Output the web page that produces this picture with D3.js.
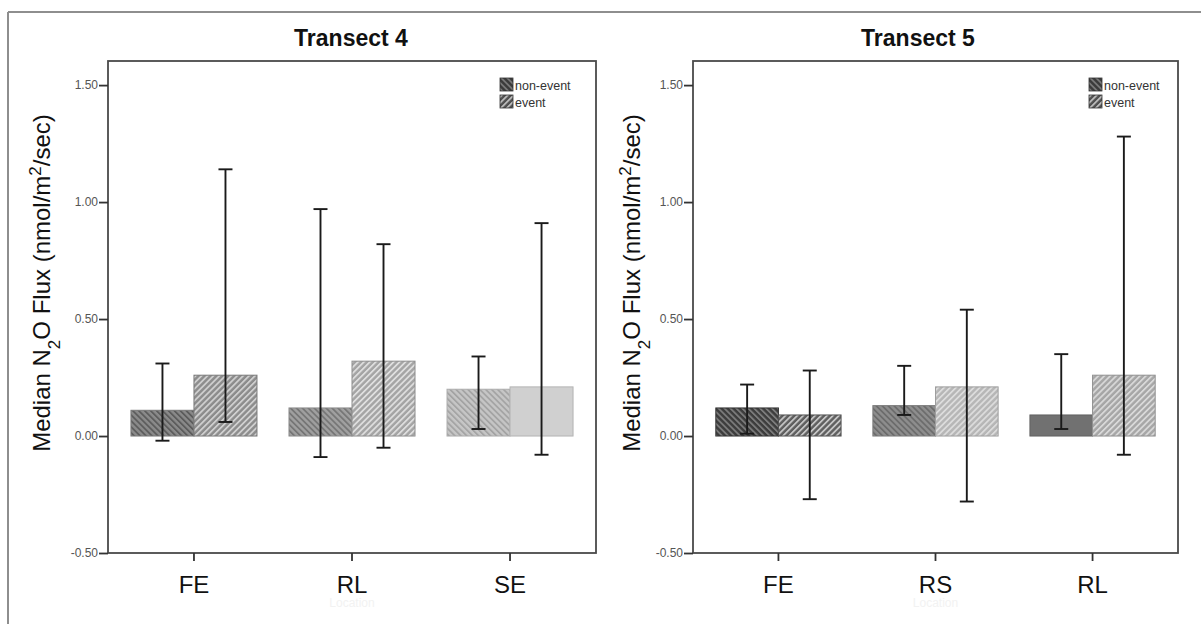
<!DOCTYPE html>
<html>
<head>
<meta charset="utf-8">
<script src="https://cdn.jsdelivr.net/npm/d3@7"></script>
<style>
  body { margin: 0; background: #fff; }
  text { font-family: "Liberation Sans", Arial, sans-serif; }
</style>
</head>
<body>
<svg id="chart" width="1201" height="624"></svg>
<script>
// data
const groups = ["non-event", "event"];
const yTicks = [-0.5, 0, 0.5, 1.0, 1.5];

const t4Sites = ["FE", "RL", "SE"];
const t4NonEvent = [0.11, 0.12, 0.20];
const t4Event = [0.26, 0.32, 0.21];
const t4NonEventLo = [-0.02, -0.09, 0.03];
const t4NonEventHi = [0.31, 0.97, 0.34];
const t4EventLo = [0.06, -0.05, -0.08];
const t4EventHi = [1.14, 0.82, 0.91];

const t5Sites = ["FE", "RS", "RL"];
const t5NonEvent = [0.12, 0.13, 0.09];
const t5Event = [0.09, 0.21, 0.26];
const t5NonEventLo = [0.01, 0.09, 0.03];
const t5NonEventHi = [0.22, 0.30, 0.35];
const t5EventLo = [-0.27, -0.28, -0.08];
const t5EventHi = [0.28, 0.54, 1.28];

// shading per bar: [base, stripe] (null stripe = solid)
const t4Shades = [
    [["#8a8a8a", "#5c5c5c"], ["#8c8c8c", "#cfcfcf"]],
    [["#a0a0a0", "#767676"], ["#a4a4a4", "#dedede"]],
    [["#c6c6c6", "#a4a4a4"], ["#d0d0d0", null]]
];
const t5Shades = [
    [["#3c3c3c", "#7c7c7c"], ["#5e5e5e", "#c4c4c4"]],
    [["#8e8e8e", "#6c6c6c"], ["#b6b6b6", "#dcdcdc"]],
    [["#717171", null], ["#a6a6a6", "#d8d8d8"]]
];

const svg = d3.select("#chart");
const defs = svg.append("defs");

let patId = 0;
function hatch(base, stripe, dir) {
    if (!stripe) return base;
    const id = "hatch" + (patId++);
    const p = defs.append("pattern")
        .attr("id", id)
        .attr("patternUnits", "userSpaceOnUse")
        .attr("width", 4.2)
        .attr("height", 4.2)
        .attr("patternTransform", `rotate(${dir === "event" ? 45 : -45})`);
    p.append("rect").attr("width", 4.2).attr("height", 4.2).attr("fill", base);
    p.append("rect").attr("width", 1.8).attr("height", 4.2).attr("fill", stripe);
    return `url(#${id})`;
}

// outer frame (top and left only)
svg.append("line").attr("x1", 8).attr("x2", 1201).attr("y1", 12).attr("y2", 12)
    .attr("stroke", "#8e8e8e").attr("stroke-width", 2);
svg.append("line").attr("x1", 8).attr("x2", 8).attr("y1", 12).attr("y2", 624)
    .attr("stroke", "#8e8e8e").attr("stroke-width", 2);

const y = d3.scaleLinear().domain([-0.5, 1.603]).range([553, 61]);

function panel(o) {
    const g = svg.append("g");
    const x = d3.scaleBand().domain(o.sites).range([o.left, o.right])
        .paddingInner(0).paddingOuter(0.044);
    const xs = d3.scaleBand().domain(groups).range([0, x.bandwidth()])
        .paddingInner(0).paddingOuter(0.254);

    const rows = [];
    o.sites.forEach((s, i) => {
        rows.push({ site: s, grp: "non-event", v: o.ne[i], lo: o.neLo[i], hi: o.neHi[i], shade: o.shades[i][0] });
        rows.push({ site: s, grp: "event", v: o.ev[i], lo: o.evLo[i], hi: o.evHi[i], shade: o.shades[i][1] });
    });

    // bars
    g.append("g").selectAll("rect")
        .data(rows)
        .join("rect")
        .attr("x", d => x(d.site) + xs(d.grp))
        .attr("y", d => y(d.v))
        .attr("width", xs.bandwidth())
        .attr("height", d => y(0) - y(d.v))
        .attr("fill", d => hatch(d.shade[0], d.shade[1], d.grp))
        .attr("stroke", d => d3.color(d.shade[0]).darker(0.4))
        .attr("stroke-width", 1);

    // error bars
    const cx = d => x(d.site) + xs(d.grp) + xs.bandwidth() / 2;
    const eb = g.append("g").attr("stroke", "#1a1a1a").attr("stroke-width", 1.9);
    eb.selectAll(".stem").data(rows).join("line")
        .attr("x1", cx).attr("x2", cx)
        .attr("y1", d => y(d.lo)).attr("y2", d => y(d.hi));
    eb.selectAll(".capHi").data(rows).join("line")
        .attr("x1", d => cx(d) - 7).attr("x2", d => cx(d) + 7)
        .attr("y1", d => y(d.hi)).attr("y2", d => y(d.hi));
    eb.selectAll(".capLo").data(rows).join("line")
        .attr("x1", d => cx(d) - 7).attr("x2", d => cx(d) + 7)
        .attr("y1", d => y(d.lo)).attr("y2", d => y(d.lo));

    // plot box
    g.append("rect")
        .attr("x", o.left).attr("y", y.range()[1])
        .attr("width", o.right - o.left).attr("height", y.range()[0] - y.range()[1])
        .attr("fill", "none").attr("stroke", "#4a4a4a").attr("stroke-width", 1.8);

    // y axis
    g.append("g")
        .attr("transform", `translate(${o.left},0)`)
        .call(d3.axisLeft(y).tickValues(yTicks).tickFormat(d => d.toFixed(2)).tickSize(9).tickPadding(1))
        .call(a => a.select(".domain").remove())
        .call(a => a.selectAll(".tick line").attr("stroke", "#333").attr("stroke-width", 1.8))
        .call(a => a.selectAll(".tick text").attr("fill", "#555").attr("font-size", 12)
            .attr("font-family", "Liberation Sans, Arial, sans-serif"));

    // x axis
    g.append("g")
        .attr("transform", `translate(0,${y.range()[0]})`)
        .call(d3.axisBottom(x).tickSize(8).tickPadding(15))
        .call(a => a.select(".domain").remove())
        .call(a => a.selectAll(".tick line").attr("stroke", "#333").attr("stroke-width", 1.8))
        .call(a => a.selectAll(".tick text").attr("fill", "#111").attr("font-size", 24)
            .attr("font-family", "Liberation Sans, Arial, sans-serif"));

    // faint axis title
    g.append("text")
        .attr("x", (o.left + o.right) / 2).attr("y", 607)
        .attr("text-anchor", "middle").attr("font-size", 12).attr("fill", "#f2f2f2")
        .text("Location");

    // title
    g.append("text")
        .attr("x", o.titleX).attr("y", 46)
        .attr("text-anchor", "middle").attr("font-size", 23).attr("font-weight", "bold")
        .attr("fill", "#111")
        .text(o.title);

    // y label
    const yl = g.append("text")
        .attr("transform", `translate(${o.labelX},283) rotate(-90)`)
        .attr("text-anchor", "middle").attr("font-size", 24).attr("fill", "#111");
    yl.append("tspan").text("Median N");
    yl.append("tspan").attr("baseline-shift", "sub").attr("font-size", 17).text("2");
    yl.append("tspan").text("O Flux (nmol/m");
    yl.append("tspan").attr("baseline-shift", "super").attr("font-size", 17).text("2");
    yl.append("tspan").text("/sec)");

    // legend
    const lg = g.append("g").attr("transform", `translate(${o.legendX},78)`);
    const legendShades = [["#3a3a3a", "#7a7a7a"], ["#505050", "#bdbdbd"]];
    groups.forEach((k, i) => {
        lg.append("rect")
            .attr("x", 0).attr("y", i * 17)
            .attr("width", 13).attr("height", 13)
            .attr("fill", hatch(legendShades[i][0], legendShades[i][1], k))
            .attr("stroke", "#333").attr("stroke-width", 0.8);
        lg.append("text")
            .attr("x", 15).attr("y", i * 17 + 12)
            .attr("font-size", 12.5).attr("fill", "#333")
            .text(k);
    });
}

panel({
    sites: t4Sites, ne: t4NonEvent, ev: t4Event,
    neLo: t4NonEventLo, neHi: t4NonEventHi, evLo: t4EventLo, evHi: t4EventHi,
    shades: t4Shades, left: 108, right: 596, title: "Transect 4", titleX: 351,
    labelX: 50, legendX: 500
});
panel({
    sites: t5Sites, ne: t5NonEvent, ev: t5Event,
    neLo: t5NonEventLo, neHi: t5NonEventHi, evLo: t5EventLo, evHi: t5EventHi,
    shades: t5Shades, left: 693, right: 1178, title: "Transect 5", titleX: 918,
    labelX: 640, legendX: 1089
});
</script>
</body>
</html>
